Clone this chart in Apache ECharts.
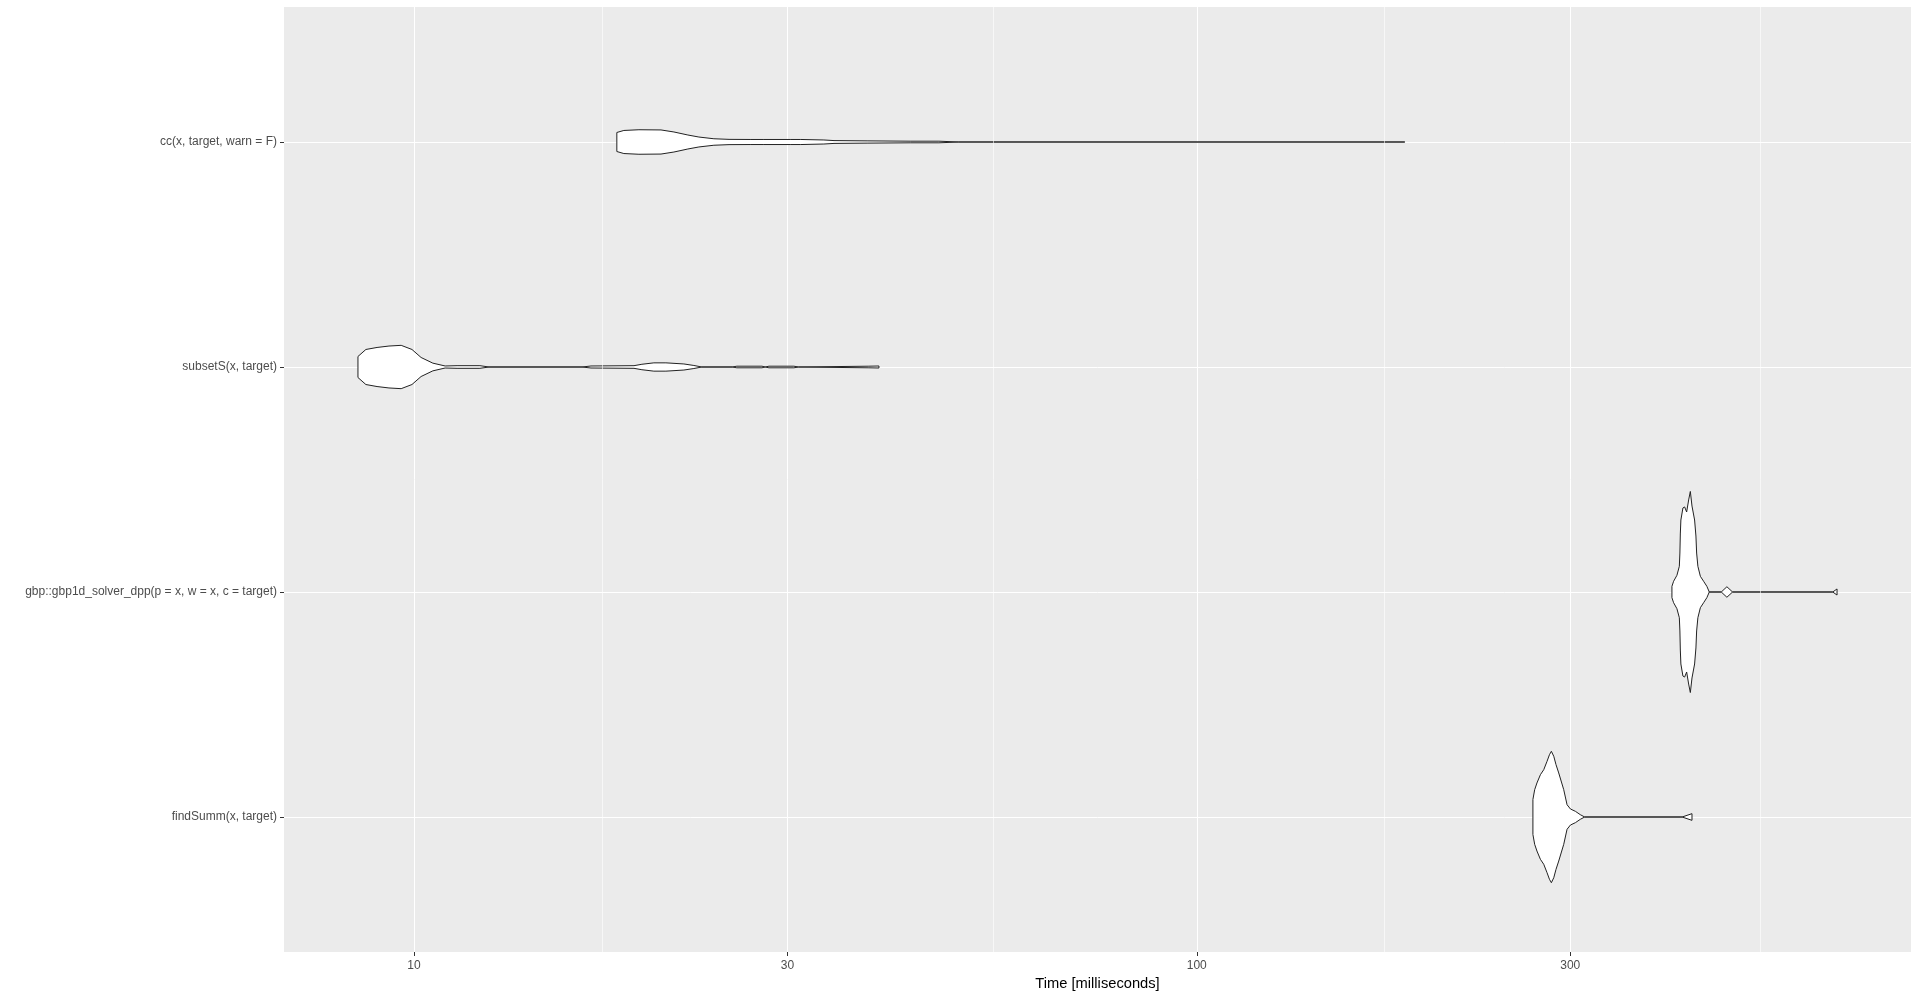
<!DOCTYPE html>
<html><head><meta charset="utf-8">
<script src="https://cdn.jsdelivr.net/npm/echarts@6/dist/echarts.min.js"></script>
<style>html,body{margin:0;padding:0;background:#fff}#c{width:1920px;height:997px}</style>
</head><body><div id="c"></div>
<script>
// Categories from bottom to top (ggplot factor order)
const categories = [
  'findSumm(x, target)',
  'gbp::gbp1d_solver_dpp(p = x, w = x, c = target)',
  'subsetS(x, target)',
  'cc(x, target, warn = F)'
];
const xTickValues = [10, 30, 100, 300];

// Violin profiles: time (ms) and relative density width (1 = widest violin)
const findSummTime  = [268.8, 270.2, 272.0, 274.8, 277.5, 280.2, 282.2, 283.8, 285.8, 287.7, 290.0, 294.3, 297.2, 300.2, 304.6, 309.0, 313.0, 416.9, 429.2];
const findSummWidth = [0.173, 0.270, 0.336, 0.418, 0.467, 0.550, 0.615, 0.649, 0.600, 0.517, 0.435, 0.270, 0.121, 0.079, 0.056, 0.023, 0.0, 0.0, 0.033];

const gbpTime  = [404.6, 406.6, 410.6, 413.5, 414.2, 414.7, 415.4, 417.9, 420.0, 422.5, 425.0, 427.1, 429.2, 432.5, 434.2, 435.1, 436.7, 439.9, 444.1, 448.4, 451.6, 467.8, 475.6, 483.6, 649.3, 657.6];
const gbpWidth = [0.056, 0.106, 0.165, 0.254, 0.385, 0.573, 0.711, 0.830, 0.840, 0.790, 0.909, 0.993, 0.849, 0.711, 0.553, 0.385, 0.254, 0.155, 0.106, 0.056, 0.0, 0.0, 0.052, 0.0, 0.0, 0.030];

const subsetSTime  = [8.48, 8.68, 8.97, 9.29, 9.63, 9.94, 10.21, 10.57, 10.96, 11.35, 12.14, 12.47, 16.39, 16.83, 19.10, 19.55, 20.25, 20.98, 22.12, 22.78, 23.32, 25.5, 25.85, 27.83, 28.1, 28.41, 30.57, 31.0, 38.12, 39.26];
const subsetSWidth = [0.104, 0.173, 0.193, 0.207, 0.214, 0.173, 0.094, 0.038, 0.010, 0.013, 0.013, 0.0, 0.0, 0.010, 0.013, 0.027, 0.041, 0.041, 0.030, 0.015, 0.0, 0.0, 0.008, 0.008, 0.0, 0.008, 0.008, 0.0, 0.008, 0.010];

const ccTime  = [18.16, 18.54, 19.38, 20.68, 21.48, 22.38, 23.12, 24.16, 25.26, 26.94, 27.99, 30.30, 31.20, 33.39, 34.40, 38.01, 43.13, 46.84, 49.66, 184.4];
const ccWidth = [0.094, 0.114, 0.121, 0.119, 0.099, 0.069, 0.049, 0.032, 0.026, 0.025, 0.025, 0.025, 0.025, 0.020, 0.014, 0.011, 0.008, 0.008, 0.0, 0.0];

const profiles = [
  {t: findSummTime, w: findSummWidth},
  {t: gbpTime, w: gbpWidth},
  {t: subsetSTime, w: subsetSWidth},
  {t: ccTime, w: ccWidth}
];

// log10 transformed x scale, ggplot-like 5% expansion
const allT = [].concat(findSummTime, gbpTime, subsetSTime, ccTime);
const lMin = Math.log10(Math.min.apply(null, allT));
const lMax = Math.log10(Math.max.apply(null, allT));
const pad = (lMax - lMin) * 0.05;
const xMin = lMin - pad, xMax = lMax + pad;

const majorL = xTickValues.map(Math.log10);
// ggplot regular minor breaks: midpoints between majors, extended by one step
const step = majorL[1] - majorL[0];
const ext = [majorL[0] - step].concat(majorL, [majorL[majorL.length - 1] + step]);
const minorL = [];
for (let i = 0; i < ext.length - 1; i++) {
  const m = (ext[i] + ext[i + 1]) / 2;
  if (m > xMin && m < xMax) minorL.push(m);
}

const FONT = '"Liberation Sans", Arial, sans-serif';
const chart = echarts.init(document.getElementById('c'));
chart.setOption({
  animation: false,
  backgroundColor: '#ffffff',
  grid: {left: 284, right: 9, top: 7, bottom: 45, show: true, backgroundColor: '#EBEBEB', borderWidth: 0},
  xAxis: {
    type: 'value', min: xMin, max: xMax,
    axisLine: {show: false},
    axisTick: {show: true, customValues: majorL, length: 4, lineStyle: {color: '#333333', width: 1}},
    axisLabel: {customValues: majorL, formatter: v => String(Math.round(Math.pow(10, v))), color: '#4D4D4D', fontSize: 12, fontFamily: FONT, margin: 8},
    splitLine: {show: true, lineStyle: {color: '#ffffff', width: 1}},
    name: 'Time [milliseconds]', nameLocation: 'middle', nameGap: 23,
    nameTextStyle: {color: '#000000', fontSize: 14.7, fontFamily: FONT}
  },
  yAxis: {
    type: 'value', min: 0.4, max: 4.6,
    axisLine: {show: false},
    axisTick: {show: true, customValues: [1, 2, 3, 4], length: 4, lineStyle: {color: '#333333', width: 1}},
    axisLabel: {customValues: [1, 2, 3, 4], formatter: v => categories[Math.round(v) - 1], color: '#4D4D4D', fontSize: 12, fontFamily: FONT, margin: 7},
    splitLine: {show: true, lineStyle: {color: '#ffffff', width: 1}}
  },
  series: [
    {
      type: 'line', data: [], z: 1, silent: true,
      markLine: {
        silent: true, symbol: 'none', animation: false,
        label: {show: false},
        lineStyle: {color: '#ffffff', width: 0.6, type: 'solid'},
        data: minorL.map(v => ({xAxis: v}))
      }
    },
    {
      type: 'custom', z: 3, silent: true,
      data: categories.map((c, i) => [Math.log10(profiles[i].t[0]), i + 1, i]),
      renderItem: function (params, api) {
        const idx = api.value(2);
        const yc = api.value(1);
        const p = profiles[idx];
        const top = [], bot = [];
        for (let k = 0; k < p.t.length; k++) {
          const lx = Math.log10(p.t[k]);
          top.push(api.coord([lx, yc + p.w[k] * 0.45]));
          bot.push(api.coord([lx, yc - p.w[k] * 0.45]));
        }
        return {
          type: 'polygon',
          shape: {points: top.concat(bot.reverse())},
          style: {fill: '#ffffff', stroke: '#222222', lineWidth: 1}
        };
      }
    }
  ]
});
</script>
</body></html>
